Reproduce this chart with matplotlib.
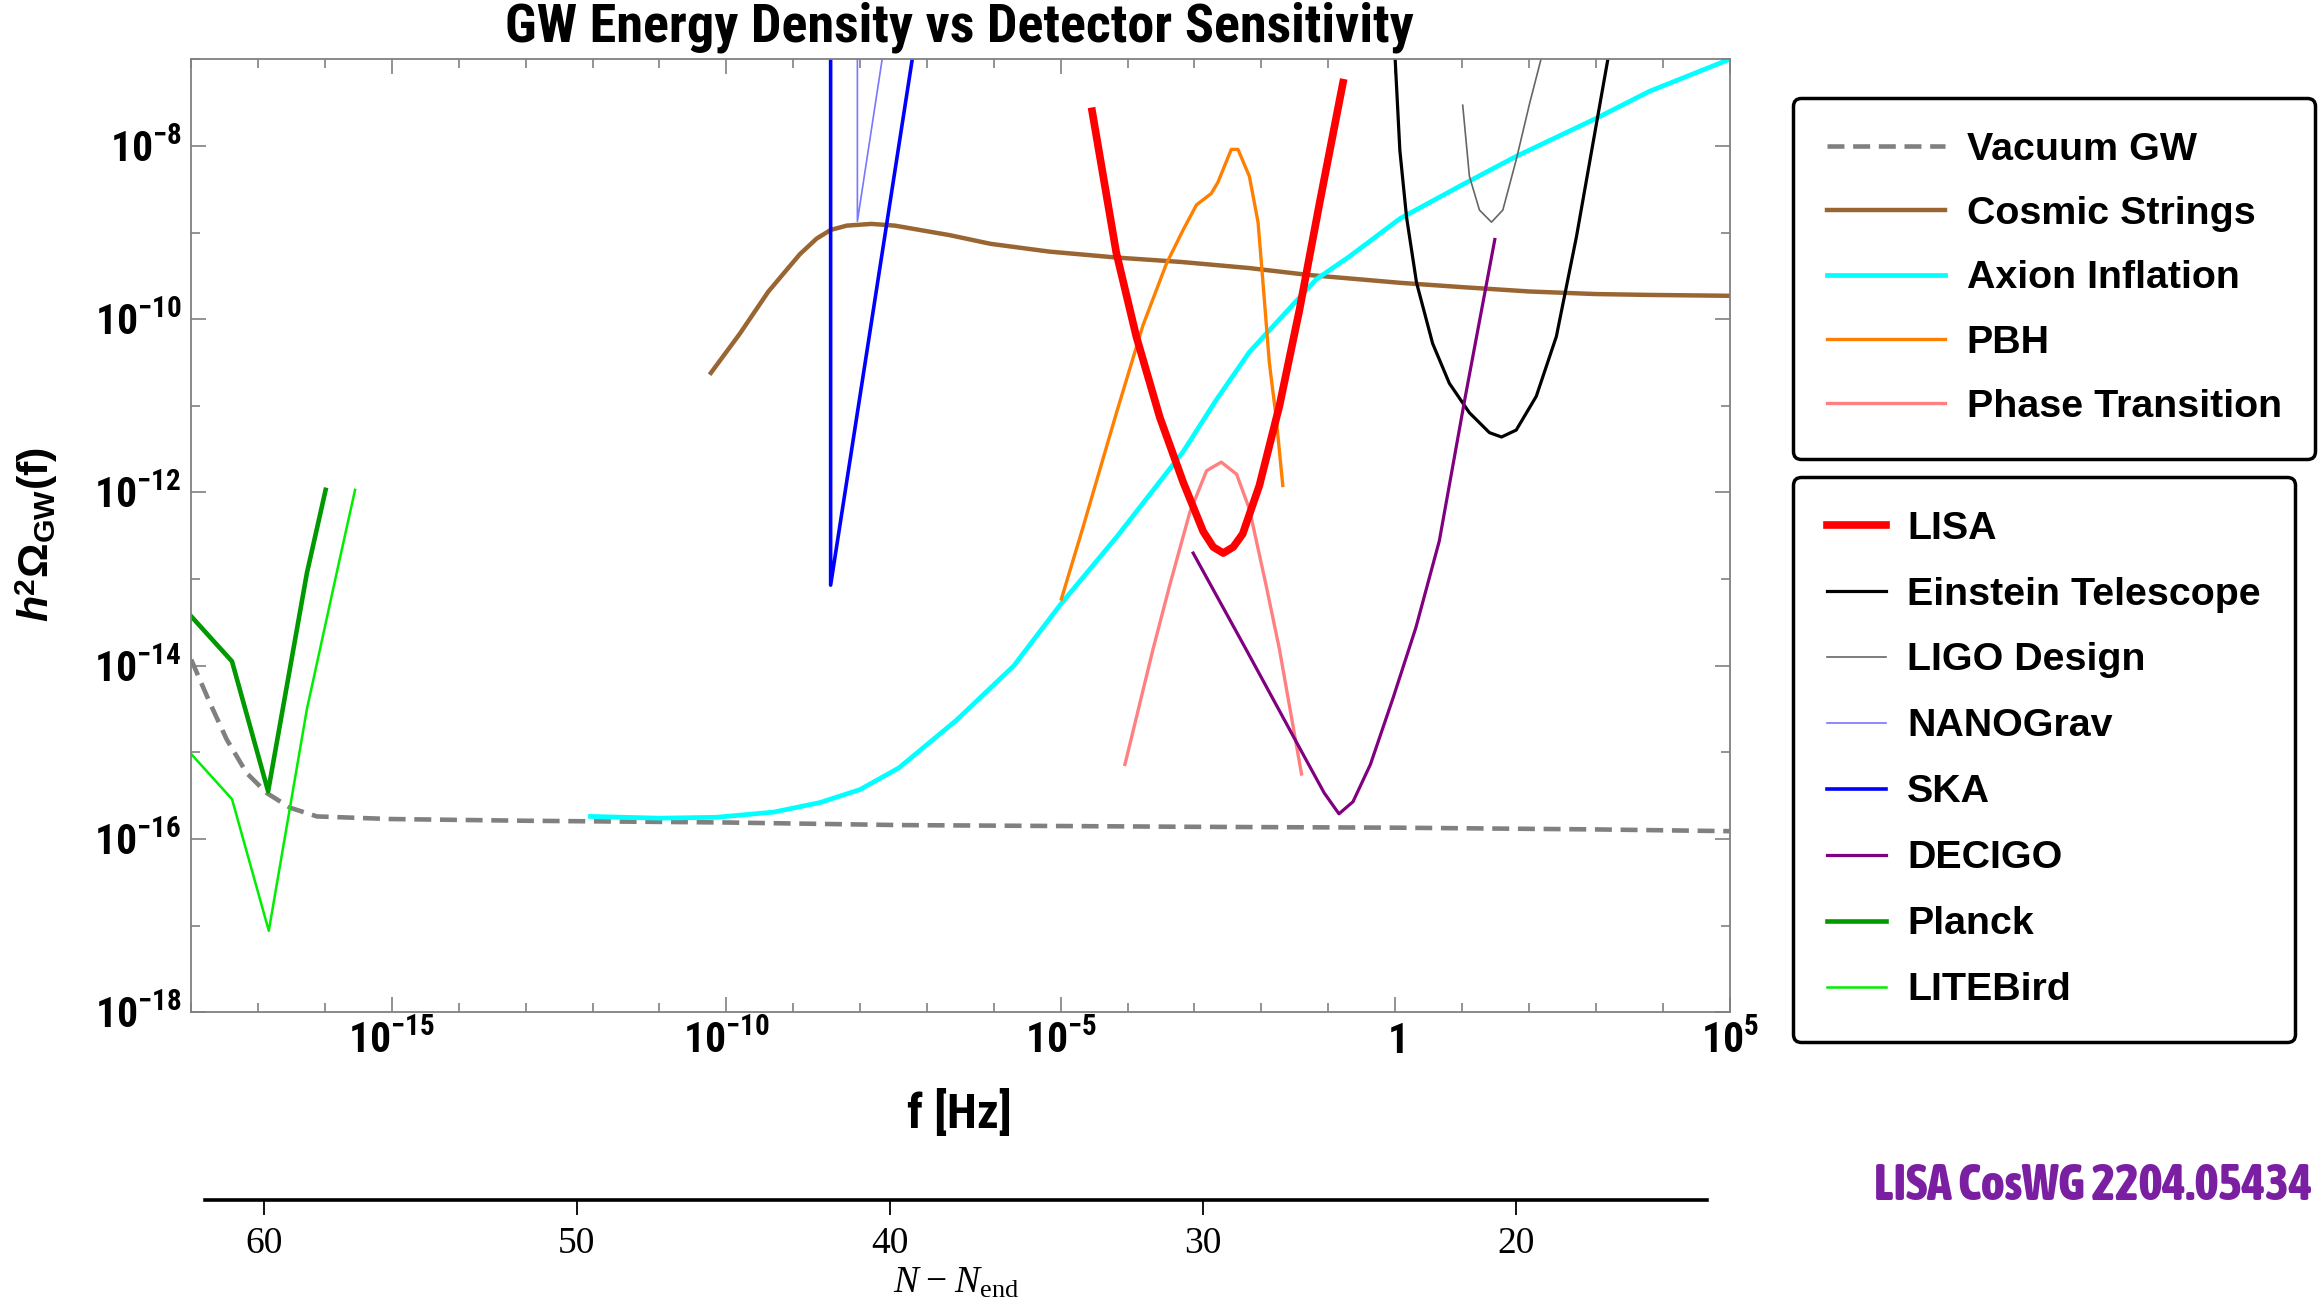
import numpy as np
import matplotlib
matplotlib.use("Agg")
import matplotlib.pyplot as plt
from matplotlib import font_manager
from matplotlib.font_manager import FontProperties
from matplotlib.ticker import NullFormatter

# values, as log10(f [Hz]) and log10(h^2 Omega_GW)
vacuum_logf = [-18.0, -17.72, -17.47, -17.17, -16.87, -16.52, -16.12, -15.03, -13.0, -10.0, -7.4, -3.0, 0.0, 3.0, 5.0]
vacuum_logo = [-13.93, -14.43, -14.85, -15.24, -15.47, -15.64, -15.74, -15.77, -15.79, -15.81, -15.84, -15.86, -15.87, -15.89, -15.91]

strings_logf = [-10.23, -9.80, -9.37, -8.90, -8.65, -8.44, -8.20, -7.83, -7.48, -6.66, -6.05, -5.17, -4.14, -3.19,
                -2.18, -1.29, -0.68, 0.07, 1.0, 2.0, 3.0, 3.8, 5.0]
strings_logo = [-10.62, -10.17, -9.68, -9.25, -9.07, -8.97, -8.92, -8.90, -8.92, -9.03, -9.13, -9.22, -9.29, -9.34,
                -9.41, -9.49, -9.53, -9.58, -9.63, -9.68, -9.71, -9.72, -9.73]

axion_logf = [-12.03, -11.0, -10.15, -9.29, -8.6, -8.0, -7.42, -6.56, -5.7, -5.0, -4.17, -3.17, -2.69, -2.18,
              -1.18, -0.69, 0.07, 1.0, 1.81, 3.01, 3.8, 5.0]
axion_logo = [-15.74, -15.76, -15.75, -15.69, -15.58, -15.43, -15.18, -14.63, -14.0, -13.29, -12.52, -11.53,
              -10.95, -10.38, -9.54, -9.28, -8.84, -8.45, -8.12, -7.68, -7.37, -7.0]

pbh_logf = [-4.99, -4.67, -4.17, -3.77, -3.42, -3.17, -2.97, -2.75, -2.65, -2.45, -2.35, -2.18, -2.05, -1.98,
            -1.88, -1.78, -1.68]
pbh_logo = [-13.23, -12.41, -11.09, -10.07, -9.36, -8.97, -8.68, -8.55, -8.42, -8.04, -8.04, -8.35, -8.88, -9.54,
            -10.51, -11.13, -11.92]

pt_logf = [-4.04, -3.62, -3.37, -3.07, -2.82, -2.60, -2.37, -2.18, -1.93, -1.73, -1.40]
pt_logo = [-15.14, -13.81, -13.07, -12.23, -11.75, -11.65, -11.79, -12.19, -13.07, -13.81, -15.25]

lisa_logf = [-4.53, -4.17, -3.87, -3.52, -3.17, -2.87, -2.72, -2.57, -2.42, -2.28, -2.03, -1.73, -1.43, -1.13, -0.78]
lisa_logo = [-7.60, -9.23, -10.20, -11.13, -11.88, -12.45, -12.63, -12.70, -12.63, -12.48, -11.92, -11.0, -9.89,
             -8.66, -7.27]

et_logf = [0.0, 0.07, 0.17, 0.32, 0.56, 0.81, 1.11, 1.41, 1.59, 1.81, 2.11, 2.41, 2.71, 3.01, 3.18]
et_logo = [-7.0, -8.05, -8.82, -9.58, -10.28, -10.74, -11.08, -11.31, -11.36, -11.28, -10.89, -10.20, -9.05,
           -7.74, -7.0]

ligo_logf = [1.01, 1.11, 1.26, 1.44, 1.61, 1.81, 2.01, 2.18]
ligo_logo = [-7.53, -8.35, -8.74, -8.88, -8.74, -8.16, -7.51, -7.0]

nanograv_logf = [-8.04, -8.04, -7.67]
nanograv_logo = [-7.0, -8.87, -7.0]

ska_logf = [-8.44, -8.44, -7.22]
ska_logo = [-7.0, -13.07, -7.0]

decigo_logf = [-3.02, -2.23, -1.40, -1.06, -0.84, -0.63, -0.37, -0.03, 0.31, 0.66, 1.04, 1.49]
decigo_logo = [-12.70, -13.81, -14.99, -15.47, -15.71, -15.57, -15.14, -14.37, -13.56, -12.56, -10.93, -9.08]

planck_logf = [-18.0, -17.39, -16.85, -16.27, -15.99]
planck_logo = [-13.43, -13.95, -15.45, -12.93, -11.97]

litebird_logf = [-18.0, -17.39, -16.84, -16.27, -15.78, -15.55]
litebird_logo = [-15.02, -15.54, -17.06, -14.50, -12.77, -11.97]

# e-folds axis under the plot
efold_ticks = [60, 50, 40, 30, 20]

xmajor = [-15, -10, -5, 0, 5]
ymajor = [-18, -16, -14, -12, -10, -8]


def weight_of(f):
    w = f.weight
    if isinstance(w, str):
        return 700 if "bold" in w or "black" in w or "heavy" in w else 400
    return w


def pick_narrow(min_weight, prefer):
    # look for an installed narrow / condensed bold face, best match first
    best = None
    for f in font_manager.fontManager.ttflist:
        if f.style != "normal" or weight_of(f) < min_weight:
            continue
        tag = (f.name + " " + str(f.stretch) + " " + f.fname).lower()
        if not any(k in tag for k in ("narrow", "condensed")):
            continue
        score = 0
        for i, key in enumerate(prefer):
            if key in tag:
                score = len(prefer) - i
                break
        if "extra" in tag or "ultra" in tag:
            score -= 0.5 if prefer[0] != "extra" else -5
        if best is None or score > best[0]:
            best = (score, f.fname)
    return best[1] if best else None


narrow_file = pick_narrow(700, ["liberation sans narrow", "roboto", "noto sans", "open sans", "dejavu"])
heavy_file = pick_narrow(700, ["extra", "noto sans", "roboto", "liberation sans narrow", "open sans", "dejavu"])

if narrow_file:
    NARROW = FontProperties(fname=narrow_file)
else:
    NARROW = FontProperties(family="Liberation Sans", weight="bold")
HEAVY = FontProperties(fname=heavy_file) if heavy_file else NARROW

plt.rcParams["mathtext.fontset"] = "custom"
plt.rcParams["mathtext.rm"] = "Liberation Serif"
plt.rcParams["mathtext.it"] = "Liberation Serif:italic"
plt.rcParams["mathtext.bf"] = "Liberation Sans:bold"
plt.rcParams["mathtext.bfit"] = "Liberation Sans:italic:bold"


def fp(base, size):
    p = base.copy()
    p.set_size(size)
    return p


def pw(e):
    return 10.0 ** np.asarray(e, dtype=float)


def pow_label(e):
    if e == 0:
        return r"$\mathdefault{1}$"
    return r"$\mathdefault{10^{%d}}$" % e


fig = plt.figure(figsize=(23.24, 13.14), dpi=100)
ax = fig.add_axes([0.08227, 0.22968, 0.66196, 0.72519])
ax.set_xscale("log")
ax.set_yscale("log")

l_vac, = ax.plot(pw(vacuum_logf), pw(vacuum_logo), color="#808080", lw=3.3, dashes=(3.7, 1.9), label="Vacuum GW")
l_cs, = ax.plot(pw(strings_logf), pw(strings_logo), color="#996633", lw=3.2, label="Cosmic Strings")
l_ax, = ax.plot(pw(axion_logf), pw(axion_logo), color="#00FFFF", lw=3.4, label="Axion Inflation")
l_pbh, = ax.plot(pw(pbh_logf), pw(pbh_logo), color="#FF7F00", lw=2.4, label="PBH")
l_pt, = ax.plot(pw(pt_logf), pw(pt_logo), color="#FF8080", lw=2.4, label="Phase Transition")
l_lisa, = ax.plot(pw(lisa_logf), pw(lisa_logo), color="#FF0000", lw=5.5, label="LISA")
l_et, = ax.plot(pw(et_logf), pw(et_logo), color="black", lw=2.3, label="Einstein Telescope")
l_ligo, = ax.plot(pw(ligo_logf), pw(ligo_logo), color="#666666", lw=1.2, label="LIGO Design")
l_nano, = ax.plot(pw(nanograv_logf), pw(nanograv_logo), color="#7777FF", lw=1.2, label="NANOGrav")
l_ska, = ax.plot(pw(ska_logf), pw(ska_logo), color="#0000FF", lw=2.6, label="SKA")
l_dec, = ax.plot(pw(decigo_logf), pw(decigo_logo), color="#800080", lw=2.3, label="DECIGO")
l_pl, = ax.plot(pw(planck_logf), pw(planck_logo), color="#009900", lw=3.3, label="Planck")
l_lb, = ax.plot(pw(litebird_logf), pw(litebird_logo), color="#00EE00", lw=1.8, label="LITEBird")

ax.set_xlim(1e-18, 1e5)
ax.set_ylim(1e-18, 1e-7)

# Mathematica-style frame: grey box, ticks inside on every side
for sp in ax.spines.values():
    sp.set_color("#808080")
    sp.set_linewidth(1.3)
tick_size = 30 if narrow_file else 27
ax.set_xticks(pw(xmajor), labels=[pow_label(e) for e in xmajor], fontproperties=fp(NARROW, tick_size))
ax.set_xticks(pw([e for e in range(-18, 6) if e not in xmajor]), minor=True)
ax.set_yticks(pw(ymajor), labels=[pow_label(e) for e in ymajor], fontproperties=fp(NARROW, tick_size))
ax.set_yticks(pw([e for e in range(-17, -6, 2)]), minor=True)
ax.xaxis.set_minor_formatter(NullFormatter())
ax.yaxis.set_minor_formatter(NullFormatter())
ax.tick_params(which="both", direction="in", top=True, right=True, color="#808080", width=1.2)
ax.tick_params(which="major", length=11)
ax.tick_params(which="minor", length=6.8)
ax.tick_params(axis="x", pad=6)
ax.tick_params(axis="y", pad=7)

fig.text(0.4127, 1 - 27 / 1314, "GW Energy Density vs Detector Sensitivity", ha="center", va="center",
         fontproperties=fp(NARROW, 39 if narrow_file else 32))
fig.text(0.4127, 1 - 1114 / 1314, "f [Hz]", ha="center", va="center",
         fontproperties=fp(NARROW, 35 if narrow_file else 31))
fig.text(37 / 2324, 1 - 534 / 1314, r"$\mathbfit{h}^{\mathdefault{2}}\mathdefault{\Omega_{GW}(f)}$", rotation=90,
         ha="center", va="center", fontsize=31, fontweight="bold", family="Liberation Sans")

leg_font = {"family": "Liberation Sans", "weight": "bold", "size": 28.4}
leg1 = ax.legend(handles=[l_vac, l_cs, l_ax, l_pbh, l_pt], loc="upper left",
                 bbox_to_anchor=(1793 / 2324, 1 - 98 / 1314), bbox_transform=fig.transFigure,
                 borderaxespad=0, prop=leg_font, handlelength=3.0, handletextpad=0.55, labelspacing=0.72,
                 borderpad=0.85, fancybox=True, framealpha=1, edgecolor="black")
leg1.get_frame().set_linewidth(2.5)
ax.add_artist(leg1)
leg2 = ax.legend(handles=[l_lisa, l_et, l_ligo, l_nano, l_ska, l_dec, l_pl, l_lb], loc="upper left",
                 bbox_to_anchor=(1793 / 2324, 1 - 477 / 1314), bbox_transform=fig.transFigure,
                 borderaxespad=0, prop=leg_font, handlelength=1.5, handletextpad=0.55, labelspacing=0.76,
                 borderpad=0.85, fancybox=True, framealpha=1, edgecolor="black")
leg2.get_frame().set_linewidth(2.5)

# number of e-folds before the end of inflation
ax2 = fig.add_axes([205 / 2324, 1 - 1200 / 1314, 1502 / 2324, 0.001])
ax2.set_xlim(61.88, 13.90)
ax2.set_ylim(0, 1)
ax2.patch.set_visible(False)
for side in ["top", "left", "right"]:
    ax2.spines[side].set_visible(False)
ax2.spines["bottom"].set_linewidth(2.6)
ax2.spines["bottom"].set_color("black")
ax2.set_yticks([])
ax2.set_xticks(efold_ticks, labels=[str(t) for t in efold_ticks], fontsize=27, family="Liberation Serif")
ax2.tick_params(axis="x", direction="out", length=11, width=1.3, pad=8)
ax2.set_xlabel(r"$N\;\mathdefault{-}\;N_{\mathdefault{end}}$", fontsize=27, family="Liberation Serif", labelpad=4)

fig.text(2312 / 2324, 1 - 1186 / 1314, "LISA CosWG 2204.05434", ha="right", va="center", color="#7B1FA2",
         fontproperties=fp(HEAVY, 36 if heavy_file else 31))

fig.savefig("out.png", dpi=100)
